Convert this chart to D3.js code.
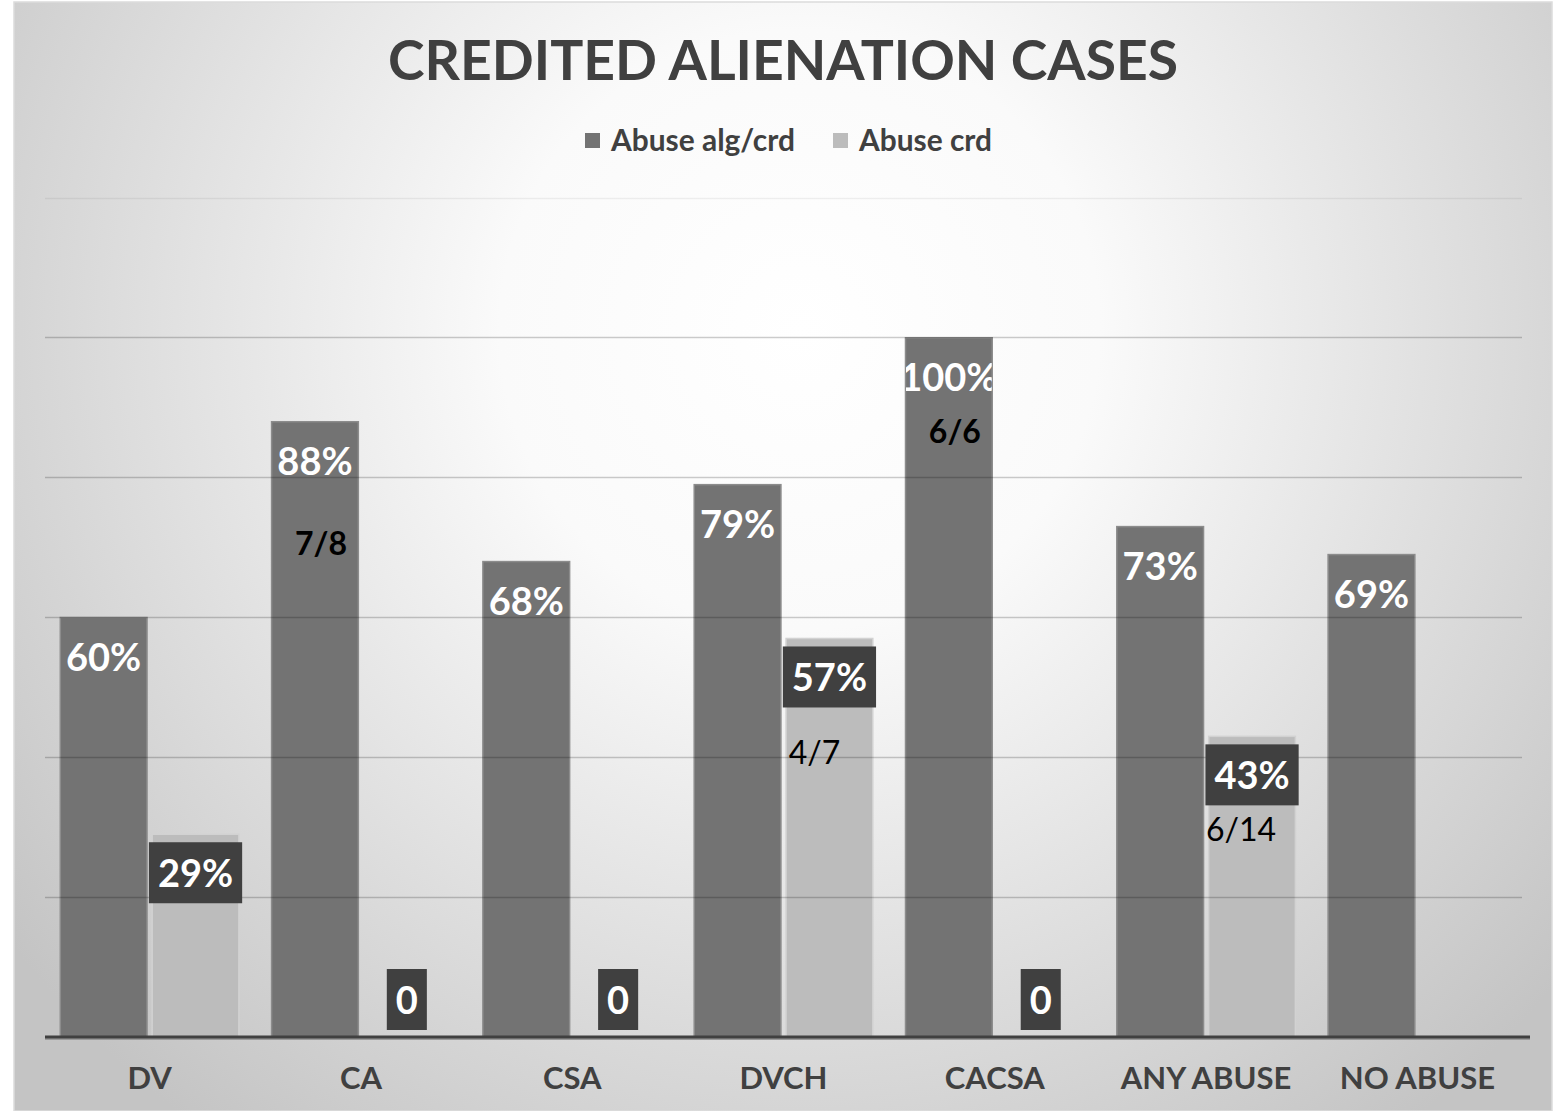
<!DOCTYPE html>
<html lang="en">
<head>
    <meta charset="UTF-8">
    <title>Credited alienation cases</title>
    <script src="https://d3js.org/d3.v7.min.js"></script>
    <style>
        body { margin: 0; background: #ffffff; }
        text { font-family: Lato, "Open Sans", sans-serif; }
    </style>
</head>
<body>
    <div id="chart"></div>

    <script>
        // data -----------------------------------------------------------
        const categories = ["DV", "CA", "CSA", "DVCH", "CACSA", "ANY ABUSE", "NO ABUSE"];
        const seriesNames = ["Abuse alg/crd", "Abuse crd"];
        const abuseAlgCrd = [60, 88, 68, 79, 100, 73, 69];
        const abuseCrd = [29, 0, 0, 57, 0, 43, null];
        const yTicks = [0, 20, 40, 60, 80, 100, 120];
        // extra hand-typed notes on the bars (value = height they sit at)
        const noteCats = ["CA", "CACSA", "DVCH", "ANY ABUSE"];
        const noteSeries = [0, 0, 1, 1];
        const noteTexts = ["7/8", "6/6", "4/7", "6/14"];
        const noteAt = [69, 85, 39, 28];
        const noteShift = [6, 6, -15, -11];
        const noteBold = [true, true, false, false];

        const width = 1559, height = 1111;
        const svg = d3.select("#chart").append("svg")
            .attr("width", width)
            .attr("height", height);

        const corner = {left: 45, right: 1522, top: 198, bottom: 1037};

        // background gradient
        const defs = svg.append("defs");
        const grad = defs.append("radialGradient")
            .attr("id", "bg")
            .attr("gradientUnits", "userSpaceOnUse")
            .attr("cx", 800).attr("cy", 330).attr("r", 1000);
        grad.append("stop").attr("offset", "0%").attr("stop-color", "#ffffff");
        grad.append("stop").attr("offset", "30%").attr("stop-color", "#fafafa");
        grad.append("stop").attr("offset", "100%").attr("stop-color", "#c4c4c4");

        svg.append("rect")
            .attr("x", 14).attr("y", 2)
            .attr("width", 1538).attr("height", 1109)
            .attr("fill", "url(#bg)")
            .attr("stroke", "#dcdcdc")
            .attr("stroke-width", 1.5);

        // scales -----------------------------------------------------------
        const x0 = d3.scaleBand().domain(categories)
            .range([corner.left, corner.right])
            .paddingInner(0.15).paddingOuter(0.07);
        const x1 = d3.scaleBand().domain([0, 1])
            .range([0, x0.bandwidth()])
            .paddingInner(0.045);
        const y = d3.scaleLinear().domain([0, 120]).range([corner.bottom, corner.top]);

        const fills = ["#737373", "#bcbcbc"];
        const strokes = ["#8c8c8c", "#d2d2d2"];

        // title
        svg.append("text")
            .attr("x", 783).attr("y", 80)
            .attr("text-anchor", "middle")
            .attr("font-size", 56)
            .attr("font-weight", 700)
            .attr("fill", "#404040")
            .attr("textLength", 790)
            .attr("lengthAdjust", "spacingAndGlyphs")
            .text("CREDITED ALIENATION CASES");

        // legend
        const legendX = [585, 833];
        const legendW = [184, 133];
        seriesNames.forEach((name, i) => {
            svg.append("rect")
                .attr("x", legendX[i]).attr("y", 133)
                .attr("width", 15).attr("height", 15)
                .attr("fill", fills[i]);
            svg.append("text")
                .attr("x", legendX[i] + 26).attr("y", 151)
                .attr("font-size", 30)
                .attr("font-weight", 700)
                .attr("fill", "#404040")
                .attr("textLength", legendW[i])
                .attr("lengthAdjust", "spacingAndGlyphs")
                .text(name);
        });

        // bars -------------------------------------------------------------
        const allSeries = [abuseAlgCrd, abuseCrd];
        const bars = [];
        categories.forEach((c, ci) => {
            allSeries.forEach((vals, si) => {
                const v = vals[ci];
                if (v === null) return;
                const bx = x0(c) + x1(si);
                bars.push({c: c, si: si, v: v, x: bx, w: x1.bandwidth()});
                if (v > 0) {
                    svg.append("rect")
                        .attr("x", bx + 0.5)
                        .attr("y", y(v))
                        .attr("width", x1.bandwidth() - 1)
                        .attr("height", y(0) - y(v))
                        .attr("fill", fills[si])
                        .attr("stroke", strokes[si])
                        .attr("stroke-width", 1.5);
                }
            });
        });

        // gridlines drawn over the bars
        yTicks.forEach(t => {
            if (t === 0) return;
            svg.append("line")
                .attr("x1", corner.left).attr("x2", corner.right)
                .attr("y1", Math.floor(y(t)) + 0.5).attr("y2", Math.floor(y(t)) + 0.5)
                .attr("stroke", "#000")
                .attr("stroke-opacity", t === 120 ? 0.06 : 0.2)
                .attr("stroke-width", 1.5);
        });

        // axis line
        svg.append("line")
            .attr("x1", corner.left).attr("x2", corner.right + 8)
            .attr("y1", y(0) + 2).attr("y2", y(0) + 2)
            .attr("stroke", "#9a9a9a").attr("stroke-width", 2);
        svg.append("line")
            .attr("x1", corner.left).attr("x2", corner.right + 8)
            .attr("y1", y(0)).attr("y2", y(0))
            .attr("stroke", "#404040").attr("stroke-width", 3);

        // category labels
        const xAxis = d3.axisBottom(x0).tickSize(0).tickPadding(0);
        const axisG = svg.append("g")
            .attr("transform", `translate(0,${y(0)})`)
            .call(xAxis);
        axisG.select(".domain").remove();
        axisG.selectAll("text")
            .attr("y", 52)
            .attr("dy", null)
            .attr("font-family", "Lato, 'Open Sans', sans-serif")
            .attr("font-size", 31)
            .attr("font-weight", 700)
            .attr("fill", "#404040");

        // value labels -------------------------------------------------------
        bars.forEach((b, i) => {
            const cx = b.x + b.w / 2;
            const label = b.v + (b.v === 0 ? "" : "%");
            if (b.si === 0) {
                const clipId = "clip" + i;
                defs.append("clipPath").attr("id", clipId)
                    .append("rect")
                    .attr("x", b.x + 1).attr("y", y(b.v))
                    .attr("width", b.w - 2).attr("height", y(0) - y(b.v));
                svg.append("text")
                    .attr("clip-path", `url(#${clipId})`)
                    .attr("x", cx).attr("y", y(b.v) + 53)
                    .attr("text-anchor", "middle")
                    .attr("font-size", 38)
                    .attr("font-weight", 700)
                    .attr("fill", "#ffffff")
                    .text(label);
            } else {
                const g = svg.append("g");
                const boxTop = Math.min(y(b.v) + 8, y(0) - 68);
                const box = g.append("rect").attr("fill", "#404040");
                const t = g.append("text")
                    .attr("x", cx).attr("y", boxTop + 45)
                    .attr("text-anchor", "middle")
                    .attr("font-size", 38)
                    .attr("font-weight", 700)
                    .attr("fill", "#ffffff")
                    .text(label);
                const tw = t.node().getComputedTextLength();
                box.attr("x", cx - tw / 2 - 9).attr("y", boxTop)
                    .attr("width", tw + 18).attr("height", 61);
            }
        });

        // hand-typed notes
        noteTexts.forEach((txt, i) => {
            const bx = x0(noteCats[i]) + x1(noteSeries[i]) + x1.bandwidth() / 2;
            svg.append("text")
                .attr("x", bx + noteShift[i])
                .attr("y", y(noteAt[i]))
                .attr("text-anchor", "middle")
                .attr("font-size", 32)
                .attr("font-weight", noteBold[i] ? 700 : 400)
                .attr("fill", "#000000")
                .text(txt);
        });
    </script>
</body>
</html>
